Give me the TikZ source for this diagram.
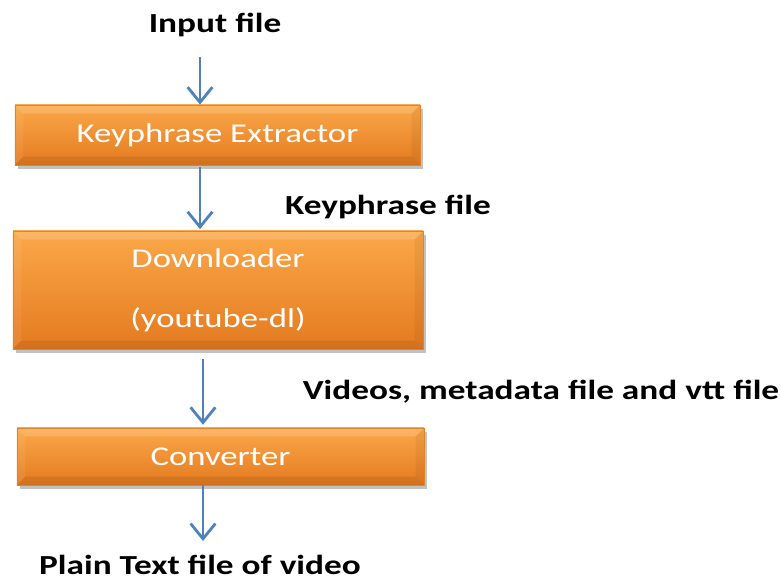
\documentclass[tikz,border=0pt]{standalone}
\usepackage{fontspec}
\setmainfont{Carlito}
\newfontfamily\stretchfont[FakeStretch=1.28]{Carlito}
\usetikzlibrary{arrows.meta, shadows}

\definecolor{cFlow}{RGB}{79,129,189}
\definecolor{cTop}{RGB}{251,168,72}
\definecolor{cBottom}{RGB}{228,122,32}
\definecolor{cEdge}{RGB}{225,130,45}

\begin{document}
\begin{tikzpicture}[
  x=0.025cm, y=-0.025cm,
  stage/.style={
    rectangle, inner sep=0pt, draw=cEdge, line width=0.6pt,
    top color=cTop, bottom color=cBottom, text=white,
    font=\stretchfont\fontsize{19.3pt}{43pt}\selectfont, align=center,
    drop shadow={shadow xshift=0.07cm, shadow yshift=-0.09cm, opacity=0.35, fill=black!70},
    path picture={
      \fill[white, opacity=0.16]
        (path picture bounding box.north west) -- (path picture bounding box.north east)
        -- ([xshift=-6pt, yshift=-6pt]path picture bounding box.north east)
        -- ([xshift=6pt, yshift=-6pt]path picture bounding box.north west) -- cycle;
      \fill[black, opacity=0.08]
        (path picture bounding box.south west) -- (path picture bounding box.south east)
        -- ([xshift=-6pt, yshift=6pt]path picture bounding box.south east)
        -- ([xshift=6pt, yshift=6pt]path picture bounding box.south west) -- cycle;
      \fill[white, opacity=0.07]
        (path picture bounding box.north west) -- (path picture bounding box.south west)
        -- ([xshift=6pt, yshift=6pt]path picture bounding box.south west)
        -- ([xshift=6pt, yshift=-6pt]path picture bounding box.north west) -- cycle;
      \fill[black, opacity=0.05]
        (path picture bounding box.north east) -- (path picture bounding box.south east)
        -- ([xshift=-6pt, yshift=6pt]path picture bounding box.south east)
        -- ([xshift=-6pt, yshift=-6pt]path picture bounding box.north east) -- cycle;
    }
  },
  label/.style={font=\stretchfont\bfseries\fontsize{19.6pt}{22pt}\selectfont, inner sep=0pt},
  flow/.style={draw=cFlow, line width=2pt, -{Straight Barb[length=0.38cm, width=0.62cm, line width=2pt]}}
]
  \useasboundingbox (0,0) rectangle (781,583);

  % Stages
  \node[stage, minimum width=10.125cm, minimum height=1.5cm] (extractor) at (217.5,135) {Keyphrase Extractor};
  \node[stage, minimum width=10.25cm, minimum height=2.95cm] (downloader) at (218,290) {Downloader\\(youtube-dl)};
  \node[stage, minimum width=10.175cm, minimum height=1.425cm] (converter) at (220.5,456.5) {Converter};

  % Files
  \node[label] (input) at (215,25) {Input file};
  \node[label] (kpfile) at (388,207) {Keyphrase file};
  \node[label] (vidfile) at (541,392) {Videos, metadata file and vtt file};
  \node[label] (plain) at (200,565) {Plain Text file of video};

  % Flow
  \coordinate (c1) at (200,57);
  \coordinate (c2) at (200,0);
  \coordinate (c3) at (203,0);
  \coordinate (c4) at (203,541);
  \draw[flow] (c1) -- (c1 |- extractor.north);
  \draw[flow, shorten <=1pt, shorten >=1pt] (c2 |- extractor.south) -- (c2 |- downloader.north);
  \draw[flow, shorten <=0.25cm, shorten >=2pt] (c3 |- downloader.south) -- (c3 |- converter.north);
  \draw[flow] (c3 |- converter.south) -- (c4);
\end{tikzpicture}
\end{document}
